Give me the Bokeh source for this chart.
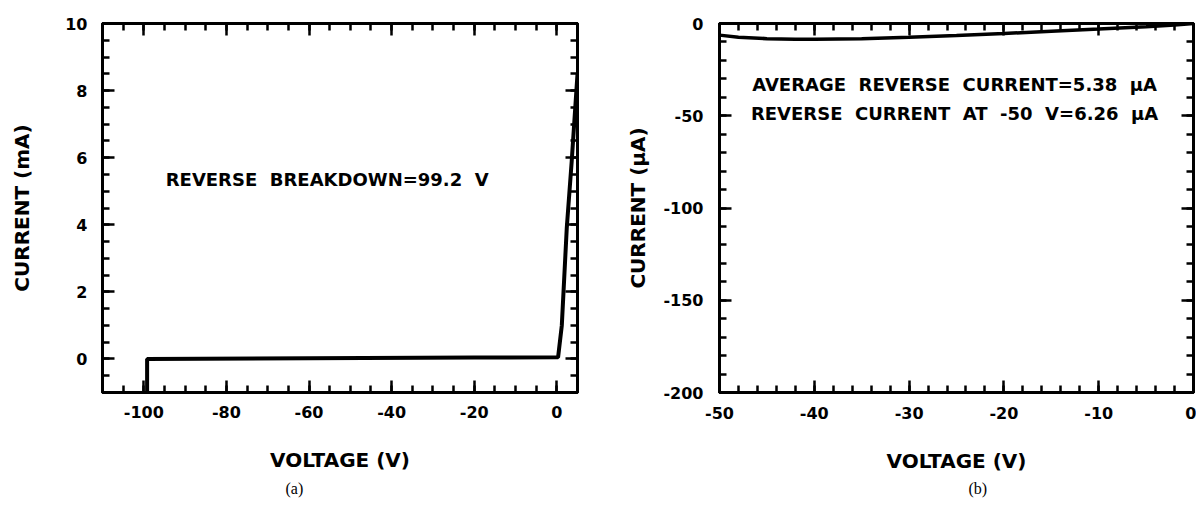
from bokeh.plotting import figure
from bokeh.models import (LinearAxis, SingleIntervalTicker, Label, NumeralTickFormatter,
                          CustomJSTickFormatter, CustomLabelingPolicy)
from bokeh.layouts import row
from bokeh.embed import file_html
from bokeh.resources import INLINE

# ---- data: panel (a) reverse breakdown ----
volt_a = [-99.2, -99.2, -60.0, -20.0, 0.3, 1.2, 2.4, 3.6, 5.0]
curr_a_mA = [-1.0, 0.0, 0.02, 0.04, 0.05, 1.0, 3.9, 5.9, 8.5]

# ---- data: panel (b) reverse leakage ----
volt_b = [-50, -48, -45, -42, -40, -35, -30, -25, -20, -15, -10, -5, -2, 0]
curr_b_uA = [-6.3, -7.4, -8.2, -8.6, -8.6, -8.2, -7.5, -6.5, -5.4, -4.2, -3.0, -1.7, -0.8, 0.0]

# ---- axes ----
xrange_a = (-110, 5)
yrange_a = (-1, 10)
xrange_b = (-50, 0)
yrange_b = (-200, 0)

FONT = "DejaVu Sans"
SP = " \u00a0"  # wide (double) word spacing as in the original


def style_axis(ax, labels=True):
    ax.axis_line_width = 3
    ax.axis_line_color = "black"
    ax.major_tick_in = 12
    ax.major_tick_out = 0
    ax.minor_tick_in = 7
    ax.minor_tick_out = 0
    ax.major_tick_line_width = 2.5
    ax.minor_tick_line_width = 2.5
    ax.major_tick_line_color = "black"
    ax.minor_tick_line_color = "black"
    if labels:
        ax.formatter = NumeralTickFormatter(format="0")
        ax.major_label_text_font = FONT
        ax.major_label_text_font_style = "bold"
        ax.major_label_text_font_size = "16px"
        ax.major_label_text_color = "black"
        ax.axis_label_text_font = FONT
        ax.axis_label_text_font_style = "bold"
        ax.axis_label_text_font_size = "20px"
        ax.axis_label_text_color = "black"
    else:
        ax.formatter = CustomJSTickFormatter(code="return ''")
        ax.major_label_policy = CustomLabelingPolicy(code="if (false) { yield 0 }")
        ax.major_label_text_font_size = "8px"
        ax.major_label_standoff = 0


def make_panel(xr, yr, xint, xminor, yint, yminor, border, xlabel, ylabel, tag, tag_offset):
    p = figure(width=598, height=510, x_range=xr, y_range=yr,
               output_backend="svg", toolbar_location=None,
               title=tag, title_location="below",
               min_border_left=border[0], min_border_right=border[1],
               min_border_top=border[2], min_border_bottom=border[3])
    p.title.text_font = "Liberation Serif"
    p.title.text_font_style = "normal"
    p.title.text_font_size = "16px"
    p.title.text_color = "black"
    p.title.align = "left"
    p.title.offset = tag_offset
    p.title.standoff = 6
    p.grid.visible = False
    p.outline_line_color = "black"
    p.outline_line_width = 3
    p.background_fill_color = "white"
    p.border_fill_color = "white"
    bottom, left = p.below[0], p.left[0]
    bottom.ticker = SingleIntervalTicker(interval=xint, num_minor_ticks=xminor)
    left.ticker = SingleIntervalTicker(interval=yint, num_minor_ticks=yminor)
    bottom.axis_label = xlabel
    left.axis_label = ylabel
    style_axis(bottom)
    style_axis(left)
    top = LinearAxis(ticker=SingleIntervalTicker(interval=xint, num_minor_ticks=xminor))
    right = LinearAxis(ticker=SingleIntervalTicker(interval=yint, num_minor_ticks=yminor))
    style_axis(top, labels=False)
    style_axis(right, labels=False)
    p.add_layout(top, "above")
    p.add_layout(right, "right")
    return p, bottom, left


def note(x, y, text):
    return Label(x=x, y=y, text=text, text_font=FONT, text_font_style="bold",
                 text_font_size="18px", text_align="center", text_baseline="middle",
                 text_color="black")


pa, pa_x, pa_y = make_panel(xrange_a, yrange_a, 20, 4, 2, 4, (102, 21, 23, 115),
                            "VOLTAGE (V)", "CURRENT (mA)", "(a)", 183)
pa_y.major_label_standoff = 15
pa_y.axis_label_standoff = 28
pa_x.major_label_standoff = 13
pa_x.axis_label_standoff = 27
pa.line(volt_a, curr_a_mA, line_color="black", line_width=4)
pa.add_layout(note(-55.6, 5.34, "REVERSE" + SP + "BREAKDOWN=99.2" + SP + "V"))

pb, pb_x, pb_y = make_panel(xrange_b, yrange_b, 10, 5, 50, 5, (121, 3, 22, 118),
                            "VOLTAGE (V)", "CURRENT (μA)", "(b)", 249)
pb.title.standoff = 4
pb_y.major_label_standoff = 16
pb_y.axis_label_standoff = 10
pb_x.major_label_standoff = 14
pb_x.axis_label_standoff = 27
pb.line(volt_b, curr_b_uA, line_color="black", line_width=3.5)
pb.add_layout(note(-25.2, -33, "AVERAGE" + SP + "REVERSE" + SP + "CURRENT=5.38" + SP + "μA"))
pb.add_layout(note(-25.2, -48.6, "REVERSE" + SP + "CURRENT" + SP + "AT" + SP + "-50" + SP + "V=6.26" + SP + "μA"))

layout = row(pa, pb, spacing=0)
open("out.html", "w").write(file_html(layout, INLINE))
